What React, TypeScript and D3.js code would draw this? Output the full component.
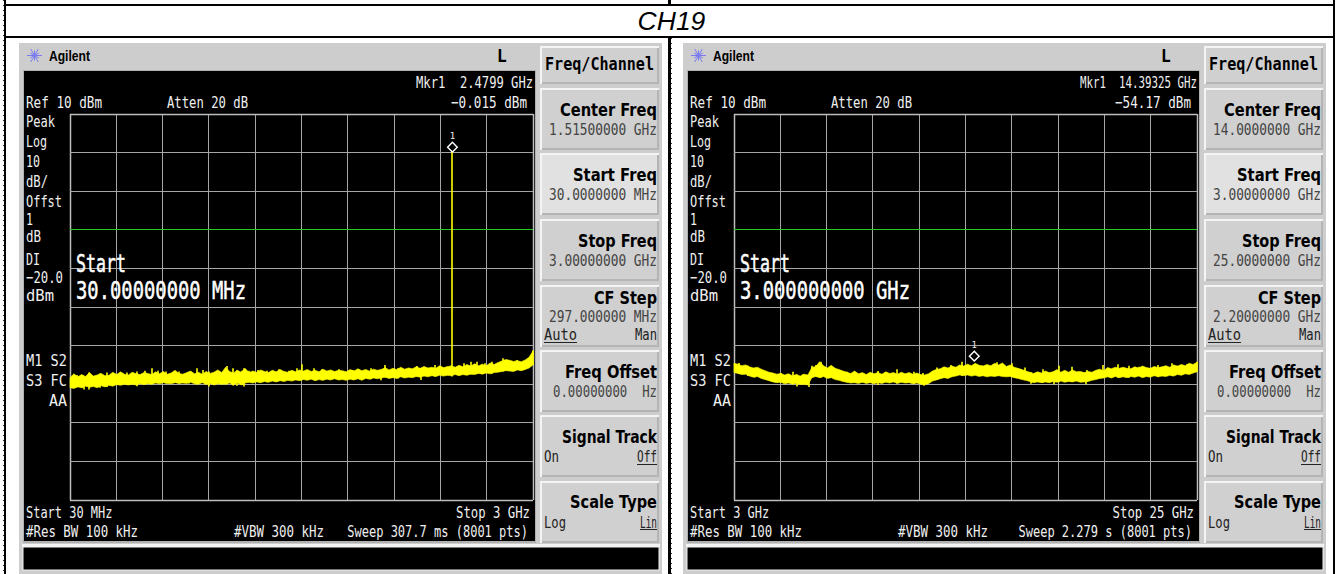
import React from "react";
import * as d3 from "d3";

const title = "CH19";
const dbDomain = [10, -90];

const leftHi = [
  -58.3,-57.3,-58.1,-57.5,-58.0,-57.0,-57.9,-57.6,-57.2,-57.8,
  -57.7,-56.9,-57.5,-56.8,-57.4,-57.6,-56.9,-57.3,-57.5,-57.0,
  -57.2,-57.5,-56.8,-57.3,-56.7,-57.4,-57.1,-56.4,-57.2,-57.4,
  -57.0,-56.6,-57.3,-56.9,-57.4,-56.7,-57.2,-56.9,-56.3,-57.0,
  -55.6,-56.7,-57.1,-56.4,-56.9,-55.9,-57.0,-56.6,-56.9,-56.3,
  -56.7,-57.0,-56.4,-56.8,-56.2,-56.7,-56.9,-56.4,-56.8,-56.3,
  -56.6,-56.2,-56.7,-56.4,-56.8,-56.1,-56.6,-56.3,-56.7,-56.4,
  -56.5,-56.8,-56.2,-56.6,-56.0,-56.5,-56.2,-56.6,-56.1,-56.4,
  -56.2,-55.7,-56.3,-55.9,-56.2,-55.6,-56.1,-55.8,-56.0,-55.5,
  -55.9,-55.4,-55.8,-55.6,-55.9,-55.2,-55.7,-55.5,-55.2,-55.6,
  -55.1,-55.5,-54.9,-55.3,-54.7,-55.2,-54.8,-55.2,-54.5,-54.9,
  -54.4,-54.0,-53.6,-53.8,-54.1,-53.9,-54.2,-53.7,-53.0,-51.4,
];
const leftLo = [
  -60.9,-61.1,-60.7,-60.9,-60.5,-60.8,-60.6,-60.9,-60.4,-60.7,
  -60.3,-60.5,-60.1,-60.3,-60.0,-60.2,-60.0,-60.2,-59.9,-60.1,
  -59.9,-60.0,-59.7,-59.9,-59.6,-59.8,-59.9,-59.6,-59.8,-59.7,
  -59.8,-59.5,-59.9,-60.0,-59.6,-60.1,-59.8,-60.2,-59.9,-60.0,
  -60.0,-59.7,-60.3,-59.6,-60.2,-59.7,-59.5,-59.7,-59.4,-59.6,
  -59.3,-59.5,-59.2,-59.4,-59.1,-59.3,-59.0,-59.2,-58.9,-59.1,
  -58.8,-59.0,-58.7,-59.1,-58.8,-59.0,-58.7,-58.9,-58.6,-58.9,
  -58.8,-59.0,-58.7,-58.9,-58.6,-59.0,-58.5,-58.7,-58.4,-58.6,
  -58.4,-58.2,-58.5,-58.3,-58.5,-58.1,-58.4,-58.2,-58.3,-58.0,
  -58.2,-57.9,-58.1,-57.8,-58.0,-57.7,-57.9,-57.7,-57.8,-57.5,
  -57.8,-57.5,-57.7,-57.4,-57.5,-57.2,-57.4,-57.1,-57.3,-57.0,
  -56.9,-56.7,-56.5,-56.6,-56.7,-56.3,-56.5,-56.2,-55.8,-55.0,
];
const rightHi = [
  -54.6,-54.8,-55.2,-55.0,-55.5,-55.8,-55.6,-56.1,-56.5,-56.9,
  -57.1,-57.4,-57.2,-57.6,-57.3,-57.8,-57.5,-57.9,-57.4,-57.6,
  -55.7,-55.4,-54.2,-55.2,-55.8,-55.1,-55.9,-56.2,-56.6,-56.9,
  -57.2,-56.6,-57.3,-57.0,-57.5,-56.9,-57.3,-57.0,-57.4,-56.8,
  -57.2,-57.0,-57.4,-56.9,-57.3,-57.0,-57.4,-57.1,-57.5,-57.6,
  -57.3,-56.6,-56.2,-56.0,-55.5,-55.8,-55.3,-55.6,-55.0,-55.3,
  -54.8,-55.2,-54.6,-55.1,-55.3,-54.9,-55.2,-54.6,-55.0,-54.5,
  -55.4,-55.0,-55.6,-55.9,-56.2,-56.6,-56.9,-57.2,-56.8,-57.1,
  -56.6,-57.0,-56.8,-56.2,-56.9,-56.4,-56.9,-56.3,-56.8,-56.7,
  -57.0,-56.7,-56.9,-56.4,-56.1,-56.5,-55.7,-56.0,-55.6,-55.9,
  -55.6,-55.9,-56.0,-55.5,-55.8,-55.3,-55.7,-55.9,-55.4,-55.7,
  -55.5,-55.2,-55.6,-55.0,-55.3,-54.9,-55.2,-54.6,-54.9,-54.3,
];
const rightLo = [
  -57.0,-57.2,-57.5,-57.4,-57.9,-58.2,-58.0,-58.5,-58.8,-59.1,
  -59.4,-59.6,-59.5,-59.9,-59.7,-60.0,-59.8,-60.1,-60.0,-60.2,
  -58.3,-58.0,-58.3,-58.0,-58.5,-58.3,-58.8,-59.0,-59.3,-59.5,
  -59.7,-59.6,-59.8,-59.5,-59.8,-59.6,-59.9,-59.6,-59.8,-59.5,
  -59.7,-59.4,-59.8,-59.5,-59.7,-59.6,-59.9,-59.7,-60.0,-60.1,
  -59.9,-59.2,-58.9,-58.6,-58.3,-58.5,-58.1,-57.9,-57.6,-57.8,
  -57.6,-57.9,-57.7,-58.0,-57.8,-58.1,-57.9,-58.0,-57.8,-58.0,
  -58.1,-58.0,-58.3,-58.5,-58.8,-59.0,-59.3,-59.6,-59.4,-59.6,
  -59.4,-59.6,-59.3,-59.5,-59.2,-59.5,-59.3,-59.4,-59.2,-59.5,
  -59.4,-59.3,-59.0,-58.8,-58.5,-58.4,-58.1,-58.4,-58.0,-58.3,
  -58.1,-58.3,-58.0,-58.2,-57.9,-58.3,-58.0,-58.2,-57.8,-58.1,
  -57.9,-58.0,-57.7,-57.9,-57.5,-57.7,-57.3,-57.5,-57.1,-56.8,
];

// Noise peaks: [horizontal division, level in dBm]
const leftPeaks: [number, number][] = [
  [0.13,-57.6],[0.24,-57.6],[0.39,-57.6],[0.63,-57.2],[0.78,-57],[1,-57.4],[1.21,-57],[1.43,-56.7],
  [1.6,-56.5],[1.77,-55.9],[1.88,-56.5],[2.07,-56.7],[2.35,-56.7],[2.55,-57],[2.74,-55.9],[2.87,-56.3],
  [3,-56.7],[3.26,-57.2],[3.39,-55.3],[3.52,-55.9],[3.7,-56.5],[3.86,-56.5],[4.06,-56.3],[4.25,-56.5],
  [4.51,-56.1],[4.73,-56.5],[4.9,-55.9],[5.01,-54.8],[5.25,-55.9],[5.44,-56.1],[5.79,-56.1],[6.11,-56.3],
  [6.48,-55.9],[6.8,-55],[7.08,-55.9],[7.48,-55.3],[7.67,-55.9],[7.88,-55],[8.14,-55.4],[8.49,-54.6],
  [8.64,-54.2],[8.79,-54.2],[8.96,-54.6],[9.11,-54.2],[9.35,-53.3],[9.65,-53.7],[9.98,-51.3],
];
const leftDips: [number, number][] = [
  [0.3,-61.4],[0.41,-61.4],[1.43,-60.5],[3,-60.6],[3.59,-60.4],[3.74,-60.6],[6.7,-59],[7.56,-58.9],
];
const rightPeaks: [number, number][] = [
  [0.09,-54.5],[0.3,-55.2],[0.45,-56.3],[0.67,-57.1],[1,-57.1],[1.27,-56.8],[1.47,-57.4],[1.68,-55.2],
  [1.77,-55],[1.86,-54.2],[1.92,-55.5],[2.14,-56.3],[2.44,-56.8],[2.76,-57.1],[3.09,-56.6],[3.52,-56.1],
  [3.87,-56.8],[4.08,-57.1],[4.38,-55.7],[4.67,-55],[4.92,-54.2],[5.35,-55.2],[5.68,-54.3],[6,-54.6],
  [6.28,-55.7],[6.67,-56.1],[7,-55.2],[7.3,-55.5],[7.62,-56.3],[7.95,-55],[8.29,-54.8],[8.51,-55.2],
  [8.73,-55.5],[9.14,-55],[9.46,-54.6],[9.78,-54.8],[9.98,-54.2],
];
const rightDips: [number, number][] = [
  [1.35,-60.6],[1.6,-60.7],[3.1,-60.2],[4.1,-60.4],[6.4,-59.9],[6.9,-60],[7.6,-60],
];

const leftTexts = {
  startGHz: 0.03, stopGHz: 3, markerGHz: 2.4799, markerDb: -0.015, spike: true,
  mkrFreq: "Mkr1  2.4799 GHz", mkrLevel: "\u22120.015 dBm",
  startBig: "30.00000000 MHz", startLabel: "Start 30 MHz", stopLabel: "Stop 3 GHz",
  sweep: "Sweep 307.7 ms (8001 pts)",
  center: "1.51500000 GHz", start: "30.0000000 MHz", stop: "3.00000000 GHz", step: "297.000000 MHz",
};
const rightTexts = {
  startGHz: 3, stopGHz: 25, markerGHz: 14.39325, markerDb: -54.17, spike: false,
  mkrFreq: "Mkr1  14.39325 GHz", mkrLevel: "\u221254.17 dBm",
  startBig: "3.000000000 GHz", startLabel: "Start 3 GHz", stopLabel: "Stop 25 GHz",
  sweep: "Sweep 2.279 s (8001 pts)",
  center: "14.0000000 GHz", start: "3.00000000 GHz", stop: "25.0000000 GHz", step: "2.20000000 GHz",
};

const sideLabels: [string, number, number][] = [
  ["Peak", 127, 29], ["Log", 147, 21], ["10", 167, 14], ["dB/", 187, 22], ["Offst", 207, 36],
  ["1", 225, 7], ["dB", 242, 15], ["DI", 265, 14], ["\u221220.0", 283, 37], ["dBm", 301, 28],
];

const LED = "'DejaVu Sans Mono', monospace";
const KEY = "'DejaVu Sans', sans-serif";

function T({ x, y, w, s = 16, c = "#f0f0f0", a = "start", f = LED, b = 400, children, sw = 0 }: any) {
  return (
    <text x={x} y={y} fontSize={s} fill={c} textAnchor={a} fontFamily={f} fontWeight={b}
      stroke={sw ? c : "none"} strokeWidth={sw}
      textLength={w} lengthAdjust="spacingAndGlyphs" xmlSpace="preserve">{children}</text>
  );
}

function Key({ y, h = 62, light = false }: any) {
  return (
    <g>
      <rect x={540} y={y} width={119} height={h} fill="#f4f4f4" />
      <rect x={542} y={y + 2} width={117} height={h - 2} fill="#b4b4b4" />
      <rect x={542} y={y + 2} width={115} height={h - 4} fill={light ? "#e1e1e1" : "#d0d0d0"} />
    </g>
  );
}

function Softkey({ y, label, sub, w, subW }: any) {
  return (
    <g>
      <T x={657} y={y + 28} s={17} c="#000" a="end" w={w} b={700} f={KEY}>{label}</T>
      {sub ? <T x={657} y={y + 47} s={15} c="#444" a="end" w={subW}>{sub}</T> : null}
    </g>
  );
}

function Panel({ dx, hi, lo, peaks, dips, t }: any) {
  const x = d3.scaleLinear().domain([t.startGHz, t.stopGHz]).range([70, 533]);
  const y = d3.scaleLinear().domain(dbDomain).range([114, 500]);
  const span = t.stopGHz - t.startGHz;
  const xGrid = d3.range(11).map((i) => t.startGHz + (i * span) / 10);
  const yGrid = d3.range(11).map((i) => dbDomain[0] - i * 10);
  const freqAt = (i: number) => t.startGHz + (i / (hi.length - 1)) * span;
  const divIndex = (d: number) => Math.round((d / 10) * (hi.length - 1));
  const area = d3.area<number>()
    .x((_, i) => x(freqAt(i)))
    .y0((_, i) => y(lo[i]))
    .y1((d) => y(d))
    .curve(d3.curveLinear);
  const mx = x(t.markerGHz);
  const my = y(t.markerDb) - 5.5;
  const diamond = d3.symbol().type(d3.symbolDiamond2).size(60)() as string;
  const gx = (v: number) => Math.floor(x(v)) + 0.5;
  const gy = (v: number) => Math.floor(y(v)) + 0.5;
  const burst = d3.range(12).map((i) => (i * Math.PI) / 6);
  return (
    <g transform={`translate(${dx},0)`}>
      <rect x={19} y={43} width={643} height={531} fill="#cdcdcd" />
      <rect x={23} y={70} width={513} height={473} fill="#b0b0b0" />
      <rect x={24} y={71} width={511} height={470} fill="#000" />
      <rect x={22} y={544} width={638} height={3} fill="#f2f2f2" />
      <rect x={23} y={547} width={636} height={23} fill="#000" stroke="#f2f2f2" strokeWidth={1} />

      {burst.map((r, i) => (
        <line key={i} x1={34.5} y1={55.5} x2={34.5 + Math.cos(r) * (i % 2 ? 5 : 7.5)} y2={55.5 + Math.sin(r) * (i % 2 ? 5 : 7.5)}
          stroke="#7a7af0" strokeWidth={1} />
      ))}
      <T x={49} y={61} s={15} c="#000" w={41} b={700} f="'Liberation Sans', sans-serif">Agilent</T>
      <T x={497} y={62} s={20} c="#000" b={700} f="'Liberation Mono', monospace" w={10}>L</T>

      {xGrid.map((v, i) => (
        <line key={i} x1={gx(v)} x2={gx(v)} y1={114} y2={500} stroke={i === 0 || i === 10 ? "#bdbdbd" : "#a6a6a6"} strokeWidth={i === 0 || i === 10 ? 1.5 : 1} />
      ))}
      {yGrid.map((v, i) => (
        <line key={i} x1={70} x2={533} y1={gy(v)} y2={gy(v)} stroke={i === 0 || i === 10 ? "#bdbdbd" : "#a6a6a6"} strokeWidth={i === 0 || i === 10 ? 1.5 : 1} />
      ))}
      <line x1={70} x2={533} y1={gy(-20)} y2={gy(-20)} stroke="#22cc22" strokeWidth={1} />

      {t.spike ? <line x1={Math.floor(mx) + 1} x2={Math.floor(mx) + 1} y1={my} y2={y(-58)} stroke="#ffff00" strokeWidth={1.6} /> : null}
      <path d={area(hi) as string} fill="#ffff00" stroke="#ffff00" strokeWidth={0.6} />
      {peaks.map(([d, v]: [number, number], i: number) => {
        const f = t.startGHz + (d * span) / 10;
        return <line key={i} x1={Math.floor(x(f)) + 1} x2={Math.floor(x(f)) + 1} y1={y(v)} y2={y(lo[divIndex(d)])} stroke="#ffff00" strokeWidth={1.6} />;
      })}
      {dips.map(([d, v]: [number, number], i: number) => {
        const f = t.startGHz + (d * span) / 10;
        return <line key={i} x1={Math.floor(x(f)) + 1} x2={Math.floor(x(f)) + 1} y1={y(hi[divIndex(d)])} y2={y(v)} stroke="#ffff00" strokeWidth={1.6} />;
      })}
      <path d={diamond} transform={`translate(${mx + 0.5},${my})`} fill="#000" stroke="#fff" strokeWidth={1.4} />
      <T x={mx + 0.5} y={my - 8} s={9} a="middle">1</T>

      <T x={416} y={88} w={117}>{t.mkrFreq}</T>
      <T x={527} y={108} a="end" w={76}>{t.mkrLevel}</T>
      <T x={26} y={108} w={76}>Ref 10 dBm</T>
      <T x={167} y={108} w={81}>Atten 20 dB</T>
      {sideLabels.map(([s, yy, w]) => (
        <T key={s} x={26} y={yy} w={w}>{s}</T>
      ))}
      <T x={26} y={366} w={41}>M1 S2</T>
      <T x={26} y={386} w={41}>S3 FC</T>
      <T x={67} y={406} a="end" w={18}>AA</T>
      <T x={26} y={518} w={t.startLabel.length * 7.2}>{t.startLabel}</T>
      <T x={530} y={518} a="end" w={t.stopLabel.length * 7.4}>{t.stopLabel}</T>
      <T x={26} y={537} w={112}>#Res BW 100 kHz</T>
      <T x={234} y={537} w={90}>#VBW 300 kHz</T>
      <T x={528} y={537} a="end" w={t.sweep.length * 7.23}>{t.sweep}</T>
      <T x={76} y={272} s={25} c="#fff" w={50} sw={0.5}>Start</T>
      <T x={76} y={299} s={25} c="#fff" w={170} sw={0.5}>{t.startBig}</T>

      <Key y={46} h={38} />
      <T x={545} y={70} s={18} c="#000" w={109} b={700}>Freq/Channel</T>
      <Key y={88} />
      <Softkey y={88} label="Center Freq" sub={t.center} w={97} subW={108} />
      <Key y={153} light />
      <Softkey y={153} label="Start Freq" sub={t.start} w={84} subW={108} />
      <Key y={219} />
      <Softkey y={219} label="Stop Freq" sub={t.stop} w={79} subW={108} />
      <Key y={285} />
      <T x={657} y={304} s={17} c="#000" a="end" w={63} b={700} f={KEY}>CF Step</T>
      <T x={657} y={322} s={15} c="#444" a="end" w={108}>{t.step}</T>
      <T x={544} y={340} s={15} c="#222" w={33}>Auto</T>
      <line x1={544} x2={577} y1={342.5} y2={342.5} stroke="#222" strokeWidth={1} />
      <T x={657} y={340} s={15} c="#222" a="end" w={22}>Man</T>
      <Key y={350} />
      <Softkey y={350} label="Freq Offset" sub="0.00000000  Hz" w={92} subW={104} />
      <Key y={415} />
      <T x={657} y={443} s={17} c="#000" a="end" w={95} b={700} f={KEY}>Signal Track</T>
      <T x={544} y={462} s={15} c="#222" w={15}>On</T>
      <T x={657} y={462} s={15} c="#222" a="end" w={20}>Off</T>
      <line x1={637} x2={657} y1={464.5} y2={464.5} stroke="#222" strokeWidth={1} />
      <Key y={481} />
      <T x={657} y={508} s={17} c="#000" a="end" w={87} b={700} f={KEY}>Scale Type</T>
      <T x={544} y={528} s={15} c="#222" w={22}>Log</T>
      <T x={657} y={528} s={15} c="#222" a="end" w={17}>Lin</T>
      <line x1={640} x2={657} y1={529.5} y2={529.5} stroke="#222" strokeWidth={1} />
    </g>
  );
}

export default function App() {
  return (
    <svg width={1338} height={574} style={{ position: "absolute", left: 0, top: 0, display: "block", background: "#fff" }}>
      <rect x={4} y={4} width={1331} height={2} fill="#000" />
      <rect x={4} y={36} width={1331} height={2} fill="#000" />
      <rect x={4} y={0} width={2} height={574} fill="#000" />
      <rect x={668} y={0} width={3} height={4} fill="#000" />
      <rect x={668} y={38} width={3} height={536} fill="#000" />
      <rect x={1333} y={0} width={2} height={574} fill="#000" />
      <line x1={3.5} x2={3.5} y1={0} y2={574} stroke="#333" strokeDasharray="1 4" />
      <line x1={671.5} x2={671.5} y1={38} y2={574} stroke="#333" strokeDasharray="1 4" />
      <text x={671.5} y={30} textAnchor="middle" fontFamily="'Liberation Sans', sans-serif" fontStyle="italic" fontSize={26.5} fill="#000">{title}</text>
      <Panel dx={0} hi={leftHi} lo={leftLo} peaks={leftPeaks} dips={leftDips} t={leftTexts} />
      <Panel dx={664} hi={rightHi} lo={rightLo} peaks={rightPeaks} dips={rightDips} t={rightTexts} />
    </svg>
  );
}
